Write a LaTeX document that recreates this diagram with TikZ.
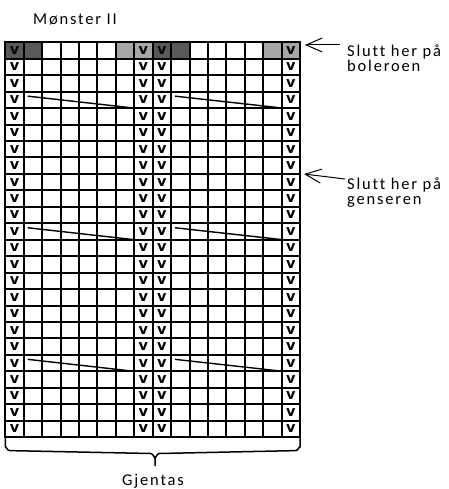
\documentclass[tikz,border=0pt]{standalone}
\usepackage{fontspec}
\setmainfont{Carlito}
\newfontfamily\labfont{Carlito}[LetterSpace=11,Ligatures={NoCommon}]
\newfontfamily\vfont{DejaVu Sans}
\usetikzlibrary{arrows.meta}
\definecolor{darkcell}{RGB}{89,89,89}
\definecolor{lightcell}{RGB}{166,166,166}
\begin{document}
\begin{tikzpicture}[x=1pt,y=-1pt,
  gridline/.style={line width=2pt,line cap=rect},
  vmark/.style={font=\vfont\bfseries\fontsize{14.5}{15}\selectfont,inner sep=0pt},
  diag/.style={line width=1.4pt},
  lab/.style={font=\labfont\fontsize{16.5}{17}\selectfont,inner sep=0pt},
  pointer/.style={line width=1pt,-{Straight Barb[length=16pt,width=14pt,line width=1pt]}},
  bracestyle/.style={line width=1.5pt,line join=round}]
\useasboundingbox (0,0) rectangle (448,489);
\def\xo{5.3}\def\yo{42.3}\def\cw{18.42}\def\rh{16.45}
% top row shading
\foreach \c/\col in {0/darkcell,1/darkcell,6/lightcell,7/lightcell,8/darkcell,9/darkcell,14/lightcell,15/lightcell}
  \fill[\col] ({\xo+\c*\cw},\yo) rectangle ++(\cw,\rh);
% grid
\foreach \i in {0,...,16}
  \draw[gridline] ({\xo+\i*\cw},\yo) -- ({\xo+\i*\cw},{\yo+24*\rh});
\foreach \j in {0,...,24}
  \draw[gridline] (\xo,{\yo+\j*\rh}) -- ({\xo+16*\cw},{\yo+\j*\rh});
% v marks
\foreach \c in {0,7,8,15}
  \foreach \r in {0,...,23}
    \node[vmark] (v-\c-\r) at ({\xo+(\c+0.5)*\cw},{\yo+(\r+0.5)*\rh}) {v};
% diagonals
\foreach \r in {3,11,19}{
  \coordinate (dl-a-\r) at ({\xo+\cw+4},{\yo+\r*\rh+4.5});
  \coordinate (dl-b-\r) at ({\xo+7*\cw},{\yo+(\r+1)*\rh});
  \coordinate (dr-a-\r) at ({\xo+9*\cw+4},{\yo+\r*\rh+4.5});
  \coordinate (dr-b-\r) at ({\xo+15*\cw+1},{\yo+(\r+1)*\rh});
  \draw[diag] (dl-a-\r) -- (dl-b-\r);
  \draw[diag] (dr-a-\r) -- (dr-b-\r);
}
% title
\node[lab,anchor=base west] (title) at (33,25) {Mønster II};
% labels and arrows
\node[lab,anchor=base west] (bol1) at (347,57) {Slutt her på};
\node[lab,anchor=base west] (bol2) at (347,72) {boleroen};
\node[lab,anchor=base west] (gen1) at (347,189) {Slutt her på};
\node[lab,anchor=base west] (gen2) at (347,204) {genseren};
\coordinate (a1end) at (340,45);
\coordinate (a1tip) at (305,45);
\coordinate (a2end) at (345,179);
\coordinate (a2tip) at (304,174);
\draw[pointer] (a1end) -- (a1tip);
\draw[pointer] (a2end) -- (a2tip);
% brace
\coordinate (bl) at (\xo,{\yo+24*\rh});
\coordinate (br) at ({\xo+16*\cw},{\yo+24*\rh});
\coordinate (btip) at (155,466);
\draw[bracestyle] (bl) -- ++(0,10) to[out=90,in=180] ++(4,3.5) -- (151,453.5)
   to[out=0,in=-90] (155,457.5) -- (btip);
\draw[bracestyle] (br) -- ++(0,10) to[out=90,in=0] ++(-4,3.5) -- (159,453.5)
   to[out=180,in=-90] (155,457.5);
\node[lab,anchor=base] (gj) at (153,485) {Gjentas};
\end{tikzpicture}
\end{document}
